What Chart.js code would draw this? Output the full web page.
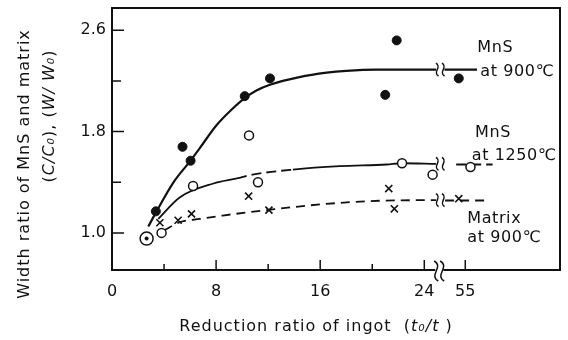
<!DOCTYPE html>
<html>
<head>
<meta charset="utf-8">
<script src="https://cdn.jsdelivr.net/npm/chart.js@4.4.1/dist/chart.umd.min.js"></script>
<style>
  html, body { margin: 0; padding: 0; background: #fff; }
  #wrap { width: 568px; height: 340px; }
</style>
</head>
<body>
<div id="wrap"><canvas id="reductionChart" width="568" height="340"></canvas></div>
<script>
// measured points, x = reduction ratio t0/t, y = width ratio
const mns900X = [3.37, 5.42, 6.04, 10.2, 12.14, 21.0, 21.88, 54.5];
const mns900Y = [1.17, 1.68, 1.57, 2.08, 2.22, 2.09, 2.52, 2.22];

const mns1250X = [3.81, 6.23, 10.53, 11.22, 22.29, 24.64, 55.4];
const mns1250Y = [1.00, 1.37, 1.77, 1.40, 1.55, 1.46, 1.52];

const matrixX = [3.68, 5.08, 6.11, 10.5, 12.06, 21.27, 21.7, 54.5];
const matrixY = [1.08, 1.10, 1.15, 1.29, 1.18, 1.35, 1.19, 1.27];

// as-cast starting point (shared by all three)
const startX = [2.66];
const startY = [0.955];

// hand-drawn fitted curves (null = axis break)
const fit900X = [2.79, 3.37, 4.8, 6.04, 6.75, 8.03, 9.2, 10.2, 11.1, 12.14, 14.4, 16.5, 18, 20.3, 24.9, null, 53.4, 55.9];
const fit900Y = [1.05, 1.16, 1.41, 1.571, 1.67, 1.85, 1.975, 2.065, 2.125, 2.17, 2.23, 2.265, 2.28, 2.29, 2.29, null, 2.29, 2.29];

const fit1250X = [3.55, 5.2, 7.8, 9.6, 10.8, 13.9, 17.5, 21.1, 22.3, 24.9, null, 54.3, 57.1];
const fit1250Y = [1.11, 1.28, 1.39, 1.43, 1.46, 1.50, 1.527, 1.54, 1.55, 1.545, null, 1.54, 1.54];

const fitMatrixX = [4.0, 5.2, 6.75, 8.5, 11.9, 16, 20.55, 24.9, null, 53.45, 56.85];
const fitMatrixY = [1.02, 1.084, 1.11, 1.137, 1.18, 1.225, 1.254, 1.259, null, 1.256, 1.256];

// axis ticks
const xTicks = [0, 4, 8, 12, 16, 20, 24, 55];
const xLabels = [0, 8, 16, 24, 55];
const yTicks = [1.0, 1.4, 1.8, 2.2, 2.6];
const yLabels = [1.0, 1.8, 2.6];

// the x axis is broken between 24 and 55
const GAP = 27.85;
const BREAK_AT = 25.15;
function toAxis(x) { return x > 40 ? x - GAP : x; }
function pts(xs, ys) {
    return xs.map((x, i) => ({ x: x === null ? BREAK_AT : toAxis(x), y: ys[i] }));
}
function near(a, b) { return Math.abs(a - b) < 1e-6; }

const FONT = "'DejaVu Sans', sans-serif";
const INK = "#111";

const notes = [
    { text: "MnS", x: 28.07, y: 2.464 },
    { text: "at 900\u2103", x: 28.3, y: 2.27 },
    { text: "MnS", x: 27.9, y: 1.79 },
    { text: "at 1250\u2103", x: 27.65, y: 1.61 },
    { text: "Matrix", x: 27.3, y: 1.113 },
    { text: "at 900\u2103", x: 27.3, y: 0.957 }
];

function squiggle(ctx, x, y, h) {
    ctx.beginPath();
    ctx.moveTo(x - h * 0.1, y - h / 2);
    ctx.bezierCurveTo(x + h * 0.4, y - h * 0.2, x - h * 0.4, y + h * 0.2, x + h * 0.1, y + h / 2);
    ctx.stroke();
}

function drawMixed(ctx, parts, cx, cy, size) {
    const fontOf = (it) => (it ? "italic " : "") + size + "px " + FONT;
    let total = 0;
    parts.forEach(p => { ctx.font = fontOf(p[1]); total += ctx.measureText(p[0]).width; });
    let cur = cx - total / 2;
    ctx.textAlign = "left";
    ctx.textBaseline = "middle";
    parts.forEach(p => {
        ctx.font = fontOf(p[1]);
        ctx.fillText(p[0], cur, cy);
        cur += ctx.measureText(p[0]).width;
    });
}

function noPad(s) {
    s.paddingTop = 0;
    s.paddingBottom = 0;
    s.paddingLeft = 0;
    s.paddingRight = 0;
}

const framePlugin = {
    id: "frame",
    beforeDatasetsDraw(chart) {
        const { ctx, chartArea: a, scales: { x, y } } = chart;
        ctx.save();
        ctx.strokeStyle = INK;
        ctx.lineWidth = 2;
        ctx.strokeRect(a.left, a.top, a.right - a.left, a.bottom - a.top);
        ctx.lineWidth = 1.5;
        ctx.beginPath();
        xTicks.forEach(v => {
            const px = x.getPixelForValue(toAxis(v));
            if (px <= a.left + 1) return;
            const len = xLabels.includes(v) ? 10 : 6;
            ctx.moveTo(px, a.bottom);
            ctx.lineTo(px, a.bottom - len);
        });
        yTicks.forEach(v => {
            const py = y.getPixelForValue(v);
            const len = yLabels.some(l => near(l, v)) ? 12 : 9;
            ctx.moveTo(a.left, py);
            ctx.lineTo(a.left + len, py);
        });
        ctx.stroke();
        ctx.restore();
    },
    afterDatasetsDraw(chart) {
        const { ctx, chartArea: a, scales: { x, y } } = chart;
        ctx.save();
        const bx = x.getPixelForValue(BREAK_AT);

        // break on the axis
        ctx.fillStyle = "#fff";
        ctx.fillRect(bx - 4, a.bottom - 2, 8, 4);
        ctx.strokeStyle = INK;
        ctx.lineWidth = 1.5;
        squiggle(ctx, bx - 3, a.bottom + 1, 20);
        squiggle(ctx, bx + 3, a.bottom + 1, 20);

        // break on each curve
        [fit900Y, fit1250Y, fitMatrixY].forEach(ys => {
            const i = ys.indexOf(null);
            const py = y.getPixelForValue(ys[i - 1]);
            squiggle(ctx, bx - 2, py, 13);
            squiggle(ctx, bx + 4, py, 13);
        });

        // curve labels
        ctx.fillStyle = INK;
        ctx.font = "16px " + FONT;
        ctx.letterSpacing = "0.6px";
        ctx.textAlign = "left";
        ctx.textBaseline = "middle";
        notes.forEach(n => ctx.fillText(n.text, x.getPixelForValue(n.x), y.getPixelForValue(n.y)));
        ctx.restore();
    },
    afterDraw(chart) {
        const { ctx } = chart;
        ctx.save();
        ctx.fillStyle = INK;
        ctx.letterSpacing = "1px";

        // x title
        drawMixed(ctx, [["Reduction ratio of ingot  (", false], ["t\u2080/t", true], [" )", false]], 316, 327, 16);

        // y title, two lines
        ctx.save();
        ctx.translate(25, 164);
        ctx.rotate(-Math.PI / 2);
        drawMixed(ctx, [["Width ratio of MnS and matrix", false]], 0, 0, 16);
        ctx.restore();

        ctx.save();
        ctx.translate(50, 116);
        ctx.rotate(-Math.PI / 2);
        drawMixed(ctx, [["(", false], ["C/C\u2080", true], ["), ", false], ["(", false], ["W/ W\u2080", true], [")", false]], 0, 0, 16);
        ctx.restore();

        ctx.restore();
    }
};

const ctx = document.getElementById("reductionChart");

if (ctx) {

    new Chart(ctx, {

        type: "scatter",

        data: {

            datasets: [
                {
                    label: "MnS at 900\u2103",
                    data: pts(mns900X, mns900Y),
                    pointStyle: "circle",
                    pointRadius: 4.5,
                    backgroundColor: INK,
                    borderColor: INK,
                    borderWidth: 1,
                    order: 0
                },
                {
                    label: "MnS at 1250\u2103",
                    data: pts(mns1250X, mns1250Y),
                    pointStyle: "circle",
                    pointRadius: 4.5,
                    backgroundColor: "#fff",
                    borderColor: INK,
                    borderWidth: 1.5,
                    order: 0
                },
                {
                    label: "Matrix at 900\u2103",
                    data: pts(matrixX, matrixY),
                    pointStyle: "crossRot",
                    pointRadius: 5,
                    borderColor: INK,
                    borderWidth: 1.6,
                    order: 0
                },
                {
                    label: "start",
                    data: pts(startX, startY),
                    pointStyle: "circle",
                    pointRadius: 6.5,
                    backgroundColor: "#fff",
                    borderColor: INK,
                    borderWidth: 1.5,
                    order: 0
                },
                {
                    label: "start dot",
                    data: pts(startX, startY),
                    pointStyle: "circle",
                    pointRadius: 2,
                    backgroundColor: INK,
                    borderColor: INK,
                    borderWidth: 0,
                    order: -1
                },
                {
                    label: "fit 900",
                    data: pts(fit900X, fit900Y),
                    showLine: true,
                    spanGaps: false,
                    pointRadius: 0,
                    borderColor: INK,
                    borderWidth: 2.2,
                    cubicInterpolationMode: "monotone",
                    order: 1
                },
                {
                    label: "fit 1250",
                    data: pts(fit1250X, fit1250Y),
                    showLine: true,
                    spanGaps: false,
                    pointRadius: 0,
                    borderColor: INK,
                    borderWidth: 1.8,
                    cubicInterpolationMode: "monotone",
                    segment: {
                        borderDash: c => {
                            const px = c.p0.parsed.x;
                            return (px >= 9.5 && px < 13.8) || px > 25 ? [10, 5] : undefined;
                        }
                    },
                    order: 1
                },
                {
                    label: "fit matrix",
                    data: pts(fitMatrixX, fitMatrixY),
                    showLine: true,
                    spanGaps: false,
                    pointRadius: 0,
                    borderColor: INK,
                    borderWidth: 1.8,
                    borderDash: [9, 6],
                    cubicInterpolationMode: "monotone",
                    order: 1
                }
            ]

        },

        options: {

            responsive: false,

            animation: false,

            layout: {
                padding: { top: 5, right: 7, left: 0, bottom: 0 }
            },

            plugins: {

                legend: { display: false },

                tooltip: { enabled: false }

            },

            scales: {

                x: {
                    type: "linear",
                    min: 0,
                    max: 34.43,
                    grid: { display: false, drawTicks: false },
                    border: { display: false },
                    ticks: {
                        autoSkip: false,
                        maxRotation: 0,
                        padding: 12,
                        color: INK,
                        font: { family: FONT, size: 16 },
                        callback: v => {
                            const real = xTicks.find(t => near(toAxis(t), v));
                            return xLabels.includes(real) ? String(real) : "";
                        }
                    },
                    afterBuildTicks: s => { s.ticks = xTicks.map(t => ({ value: toAxis(t) })); },
                    afterFit: s => { s.height = 70; noPad(s); }
                },

                y: {
                    min: 0.707,
                    max: 2.776,
                    grid: { display: false, drawTicks: false },
                    border: { display: false },
                    ticks: {
                        autoSkip: false,
                        padding: 6,
                        color: INK,
                        font: { family: FONT, size: 16 },
                        callback: v => yLabels.some(l => near(l, v)) ? v.toFixed(1) : ""
                    },
                    afterBuildTicks: s => { s.ticks = yTicks.map(t => ({ value: t })); },
                    afterFit: s => { s.width = 112; noPad(s); }
                }

            }

        },

        plugins: [framePlugin]

    });

}
</script>
</body>
</html>
